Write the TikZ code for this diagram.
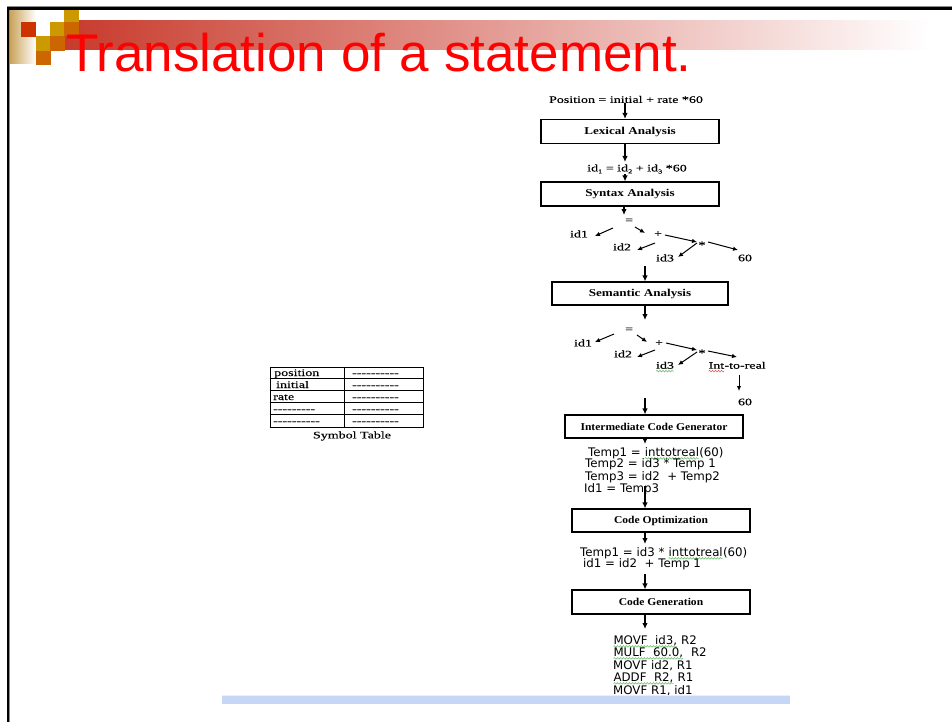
\documentclass[tikz,border=0pt]{standalone}
\usepackage{fontspec}
\setmainfont{Liberation Serif}
\newfontfamily\labelfont[FakeStretch=1.4,FakeBold=0.25,Ligatures=TeXOff]{Liberation Serif}
\newfontfamily\stagefont[FakeStretch=1.25]{Liberation Serif}
\newfontfamily\stagefontn[FakeStretch=1.1]{Liberation Serif}
\newfontfamily\codefont{DejaVu Sans}
\newfontfamily\titlefont{Liberation Sans}
\usetikzlibrary{arrows.meta,decorations.pathmorphing}

\definecolor{titlered}{RGB}{255,0,0}
\definecolor{barred}{RGB}{200,58,44}
\definecolor{tanc}{RGB}{200,160,84}
\definecolor{sqred}{RGB}{204,51,0}
\definecolor{sqgold}{RGB}{204,153,0}
\definecolor{sqorange}{RGB}{204,102,0}
\definecolor{spellgreen}{RGB}{120,195,120}
\definecolor{spellred}{RGB}{230,90,90}
\definecolor{footblue}{RGB}{198,214,246}

% word with a wavy spell-check underline
\newcommand\squig[2][spellgreen]{\tikz[baseline=(sq.base)]{\node[inner sep=0pt,outer sep=0pt,anchor=base,draw=none] (sq) {#2};\draw[draw=#1,line width=0.6pt,decorate,decoration={snake,amplitude=0.8pt,segment length=3pt}] ([yshift=-2.4pt]sq.base west) -- ([yshift=-2.4pt]sq.base east);}}
\newcommand\tsub[1]{\raisebox{-2pt}{\fontsize{6}{6}\selectfont #1}}
\newcommand\hyph[1]{\foreach \i in {1,...,#1}{-}}

\begin{document}
\begin{tikzpicture}[x=1pt,y=-1pt,
  lbl/.style={font=\labelfont\fontsize{10}{12}\selectfont, inner sep=0pt},
  stagebox/.style={draw, line width=1.1pt, minimum width=178pt, minimum height=24pt, inner sep=0pt,
    font=\stagefont\bfseries\fontsize{10.5}{12}\selectfont},
  stageboxn/.style={stagebox, font=\stagefontn\bfseries\fontsize{10.5}{12}\selectfont},
  codeline/.style={font=\codefont\fontsize{11.8}{13}\selectfont, inner sep=0pt, anchor=base west},
  arr/.style={-{Latex[length=6pt,width=5.5pt]}, line width=1.3pt},
  tarr/.style={-{Latex[length=5pt,width=4.5pt]}, line width=1pt},
  cell/.style={lbl, anchor=base west},
]
\useasboundingbox (0,0) rectangle (952,722);
\fill[white] (0,0) rectangle (952,722);

% ---- header band ----
\shade[left color=tanc, right color=white] (9,10) rectangle (36,64);
\shade[left color=barred, right color=white] (65,21) rectangle (930,50);
\fill[sqred]    (21,22) rectangle (36,37);
\fill[sqgold]   (36,36) rectangle (51,51);
\fill[sqorange] (36,51) rectangle (51,65);
\fill[sqgold]   (50,22) rectangle (65,36);
\fill[sqorange] (50,36) rectangle (65,51);
\fill[sqgold]   (64,8)  rectangle (79,22);
\fill[sqorange] (64,22) rectangle (79,36);
\draw[black!45, line width=1pt] (7,6.9) -- (952,6.9);
\draw[black!45, line width=1pt] (9.7,8) -- (9.7,722);
\draw[line width=2.4pt] (8,722) -- (8,8.6) -- (952,8.6);

\node[font=\titlefont\fontsize{53}{60}\selectfont, text=titlered, anchor=base west, inner sep=0pt]
  (title) at (66,72) {Translation of a statement.};

% ---- symbol table ----
\node[draw, line width=0.8pt, minimum width=153pt, minimum height=60pt, inner sep=0pt] (symtab) at (346.5,397) {};
\draw[line width=0.8pt] ([xshift=75pt]symtab.north west) -- ([xshift=75pt]symtab.south west);
\foreach \k in {1,...,4}
  \draw[line width=0.8pt] ([yshift={-12pt*\k}]symtab.north west) -- ([yshift={-12pt*\k}]symtab.north east);
\node[cell] (c11) at (274,376) {position};
\node[cell] (c21) at (276,388) {initial};
\node[cell] (c31) at (273,400) {rate};
\node[cell] (c41) at (273,412) {\hyph{9}};
\node[cell] (c51) at (273,424) {\hyph{10}};
\foreach \k in {1,...,5}
  \node[cell] (c\k2) at (352,364+12*\k) {\hyph{10}};
\node[lbl] (symcap) at (352,436) {Symbol Table};

% ---- compiler phases ----
\coordinate (sp1) at (625,0);

\node[lbl] (src) at (626,99.5) {Position = initial + rate *60};
\node[stagebox] (lex) at (630,131.5) {Lexical Analysis};
\node[lbl] (tok) at (637,169) {id\tsub{1} = id\tsub{2} + id\tsub{3} *60};
\node[stagebox] (syn) at (630,194) {Syntax Analysis};

\coordinate (tI) at (625,162);
\coordinate (tJ) at (625,174);
\coordinate (tK) at (624,215);
\draw[arr] (src.south -| sp1) -- (lex.north -| sp1);
\draw[arr] (lex.south -| sp1) -- (tI);
\draw[arr] (tJ) -- (syn.north -| sp1);
\draw[arr] (syn.south -| tK) -- (tK);

% syntax tree
\node[lbl] (eqA)  at (629,221) {=};
\node[lbl] (idA1) at (579,234) {id1};
\node[lbl] (plA)  at (658,234) {+};
\node[lbl] (idA2) at (622,247) {id2};
\node[lbl] (stA)  at (702,245) {*};
\node[lbl] (idA3) at (665,258) {id3};
\node[lbl] (numA) at (745,258) {60};
\draw[tarr] ([shift={(-16,7)}]eqA.center) -- ([shift={(16,2)}]idA1.center);
\draw[tarr] ([shift={(6,6)}]eqA.center) -- ([shift={(-13,-1)}]plA.center);
\draw[tarr] ([shift={(-3,9)}]plA.center) -- ([shift={(15,3)}]idA2.center);
\draw[tarr] ([shift={(7,1)}]plA.center) -- ([shift={(-5,-3)}]stA.center);
\draw[tarr] ([shift={(-5,-2)}]stA.center) -- ([shift={(13,-1)}]idA3.center);
\draw[tarr] ([shift={(6,-3)}]stA.center) -- ([shift={(-7,-8)}]numA.center);

\node[stagebox] (sem) at (640,293.5) [minimum width=176pt, minimum height=23pt] {Semantic Analysis};
\coordinate (tA) at (645,266);
\coordinate (tB) at (645,320);
\draw[arr] (tA) -- (sem.north -| tA);
\draw[arr] (sem.south -| tB) -- (tB);

% annotated tree
\node[lbl] (eqB)  at (629,330) {=};
\node[lbl] (idB1) at (583,343) {id1};
\node[lbl] (plB)  at (659,343) {+};
\node[lbl] (idB2) at (623,354) {id2};
\node[lbl] (stB)  at (702,353) {*};
\node[lbl] (idB3) at (665,367) {\squig{id3}};
\node[lbl] (itr)  at (737,367) {\squig[spellred]{Int}-to-real};
\node[lbl] (numB) at (745,402) {60};
\draw[tarr] ([shift={(-15,4)}]eqB.center) -- ([shift={(12,-1)}]idB1.center);
\draw[tarr] ([shift={(8,5)}]eqB.center) -- ([shift={(-12,-1)}]plB.center);
\draw[tarr] ([shift={(-4,7)}]plB.center) -- ([shift={(14,3)}]idB2.center);
\draw[tarr] ([shift={(7,0)}]plB.center) -- ([shift={(-5,-3)}]stB.center);
\draw[tarr] ([shift={(-5,-1)}]stB.center) -- ([shift={(13,-2)}]idB3.center);
\draw[tarr] ([shift={(6,-2)}]stB.center) -- ([shift={(0,-10)}]itr.center);
\draw[tarr] ([shift={(2,8)}]itr.center) -- ([shift={(-6,-11)}]numB.center);

\node[stageboxn] (icg) at (654,426.5) [minimum height=23pt] {Intermediate Code Generator};
\coordinate (tC) at (645,398);
\coordinate (tD) at (645,444);
\draw[arr] (tC) -- (icg.north -| tC);
\draw[arr] (icg.south -| tD) -- (tD);

\node[codeline] (t1) at (588,456) {Temp1 = \squig{inttotreal}(60)};
\node[codeline] (t2) at (585,467.5) {Temp2 = id3 * Temp 1};
\node[codeline] (t3) at (585,480) {Temp3 = id2\ \ + Temp2};
\node[codeline] (t4) at (584,492) {Id1 = Temp3};

\node[stageboxn] (opt) at (661,520.5) [minimum height=23pt] {Code Optimization};
\coordinate (tE) at (645,486);
\coordinate (tF) at (645,544);
\draw[arr] (tE) -- (opt.north -| tE);
\draw[arr] (opt.south -| tF) -- (tF);

\node[codeline] (o1) at (580,556) {Temp1 = id3 * \squig{inttotreal}(60)};
\node[codeline] (o2) at (583,567) {id1 = id2\ \ + Temp 1};

\node[stageboxn] (gen) at (661,602) {Code Generation};
\coordinate (tG) at (645,574);
\coordinate (tH) at (645,629);
\draw[arr] (tG) -- (gen.north -| tG);
\draw[arr] (gen.south -| tH) -- (tH);

\node[codeline] (m1) at (613,644) {\squig{MOVF\ \ id3,} R2};
\node[codeline] (m2) at (613,656) {\squig{MULF\ \ 60.0,}\ \ R2};
\node[codeline] (m3) at (613,669) {MOVF id2, R1};
\node[codeline] (m4) at (613,681) {\squig{ADDF\ \ R2,} R1};
\node[codeline] (m5) at (613,694) {MOVF R1, id1};

% ---- footer bar, laid over the last line's descender ----
\draw[footblue!40, line width=0.8pt] (222,695.6) -- (790,695.6);
\fill[footblue] (222,696.3) rectangle (790,704);
\end{tikzpicture}
\end{document}
